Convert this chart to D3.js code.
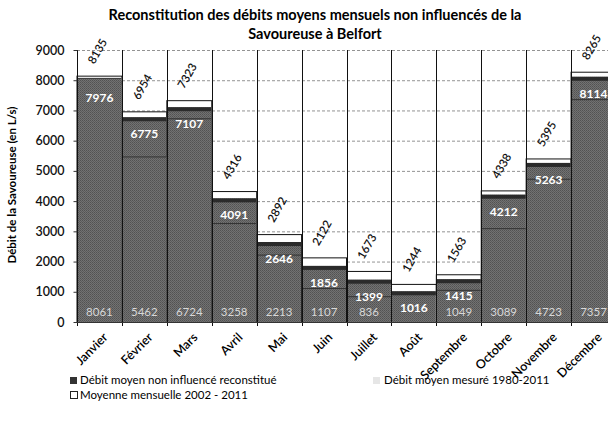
<!DOCTYPE html>
<html>
<head>
<meta charset="utf-8">
<script src="https://cdn.jsdelivr.net/npm/d3@7"></script>
<style>
  body { margin: 0; background: #fff; }
  svg { font-family: Lato, "Open Sans", sans-serif; }
</style>
</head>
<body>
<svg id="chart" width="608" height="423"></svg>
<script>
// Data
var months = ['Janvier', 'Février', 'Mars', 'Avril', 'Mai', 'Juin', 'Juillet', 'Août',
              'Septembre', 'Octobre', 'Novembre', 'Décembre'];
var moyenne2002 = [8135, 6954, 7323, 4316, 2892, 2122, 1673, 1244, 1563, 4338, 5395, 8265];
var reconstitue = [7976, 6775, 7107, 4091, 2646, 1856, 1399, 1016, 1415, 4212, 5263, 8114];
var mesure = [8061, 5462, 6724, 3258, 2213, 1107, 836, null, 1049, 3089, 4723, 7357];
var yTicks = [0, 1000, 2000, 3000, 4000, 5000, 6000, 7000, 8000, 9000];

var svg = d3.select('#chart');

// halftone-like texture of the scan
var defs = svg.append('defs');
var pat = defs.append('pattern').attr('id', 'grain')
    .attr('width', 2).attr('height', 2).attr('patternUnits', 'userSpaceOnUse');
pat.append('rect').attr('width', 2).attr('height', 2).attr('fill', '#727272');
pat.append('rect').attr('width', 1).attr('height', 1).attr('fill', '#525252');
pat.append('rect').attr('x', 1).attr('y', 1).attr('width', 1).attr('height', 1).attr('fill', '#5c5c5c');

var x = d3.scaleBand().domain(months).range([77, 616]).padding(0);
var y = d3.scaleLinear().domain([0, 9000]).range([322, 50]);
var bw = x.bandwidth();

// Title
svg.append('text').attr('x', 315).attr('y', 20).attr('text-anchor', 'middle')
    .style('font-size', '14.5px').style('font-weight', 'bold')
    .text('Reconstitution des débits moyens mensuels non influencés de la');
svg.append('text').attr('x', 315).attr('y', 39).attr('text-anchor', 'middle')
    .style('font-size', '14.5px').style('font-weight', 'bold')
    .text('Savoureuse à Belfort');

// gridlines
svg.append('g').selectAll('line').data(yTicks.slice(1)).join('line')
    .attr('x1', 77).attr('x2', 616)
    .attr('y1', function(d){ return y(d) + 0.5; }).attr('y2', function(d){ return y(d) + 0.5; })
    .attr('stroke', '#777').attr('stroke-dasharray', '3,2').attr('stroke-width', 0.8);

// white bars (moyenne 2002 - 2011)
svg.append('g').selectAll('rect').data(moyenne2002).join('rect')
    .attr('x', function(d, i){ return x(months[i]); })
    .attr('y', function(d){ return y(d); })
    .attr('width', bw).attr('height', function(d){ return y(0) - y(d); })
    .attr('fill', '#fff').attr('stroke', '#111').attr('stroke-width', 1);

// reconstitue bars
var gR = svg.append('g');
gR.selectAll('rect.bar').data(reconstitue).join('rect').attr('class', 'bar')
    .attr('x', function(d, i){ return x(months[i]) + 0.5; })
    .attr('y', function(d){ return y(d); })
    .attr('width', bw - 1).attr('height', function(d){ return y(0) - y(d); })
    .attr('fill', 'url(#grain)');
gR.selectAll('rect.top').data(reconstitue).join('rect').attr('class', 'top')
    .attr('x', function(d, i){ return x(months[i]) + 0.5; })
    .attr('y', function(d){ return y(d); })
    .attr('width', bw - 1).attr('height', 4)
    .attr('fill', '#2b2b2b');

// mesure bars
var mData = mesure.map(function(v, i){ return {m: months[i], v: v}; })
    .filter(function(d){ return d.v != null; });
var gM = svg.append('g');
gM.selectAll('rect').data(mData).join('rect')
    .attr('x', function(d){ return x(d.m) + 0.5; })
    .attr('y', function(d){ return y(d.v); })
    .attr('width', bw - 1).attr('height', function(d){ return y(0) - y(d.v); })
    .attr('fill', 'url(#grain)');
gM.selectAll('line').data(mData).join('line')
    .attr('x1', function(d){ return x(d.m) + 0.5; })
    .attr('x2', function(d){ return x(d.m) + bw - 0.5; })
    .attr('y1', function(d){ return y(d.v); }).attr('y2', function(d){ return y(d.v); })
    .attr('stroke', '#333').attr('stroke-width', 1);

// vertical separators
var bounds = months.map(function(m){ return x(m); });
svg.append('g').selectAll('line').data(bounds).join('line')
    .attr('x1', function(d){ return Math.round(d) + 0.5; })
    .attr('x2', function(d){ return Math.round(d) + 0.5; })
    .attr('y1', y(9000)).attr('y2', y(0) + 4)
    .attr('stroke', '#111').attr('stroke-width', 1);

// x axis
svg.append('line').attr('x1', 77).attr('x2', 616)
    .attr('y1', y(0) + 0.5).attr('y2', y(0) + 0.5).attr('stroke', '#333');

// y axis
var yAxis = d3.axisLeft(y).tickValues(yTicks).tickFormat(d3.format('d')).tickSize(4).tickPadding(9);
var gy = svg.append('g').attr('transform', 'translate(77.5,0)').call(yAxis);
gy.select('.domain').remove();
gy.selectAll('line').attr('stroke', '#333');
gy.selectAll('text').style('font-size', '12.5px').style('font-weight', '600')
    .style('font-family', 'Lato, sans-serif').attr('fill', '#111');

svg.append('text')
    .attr('transform', 'translate(16,185) rotate(-90)')
    .attr('text-anchor', 'middle')
    .style('font-size', '11.5px').style('font-weight', 'bold')
    .text('Débit de la Savoureuse (en L/s)');

// month labels
svg.append('g').selectAll('text').data(months).join('text')
    .attr('transform', function(d){ return 'translate(' + (x(d) + bw / 2 + 6) + ',335) rotate(-45)'; })
    .attr('text-anchor', 'end')
    .attr('dy', '0.35em')
    .style('font-size', '12.5px').style('font-weight', '600')
    .text(function(d){ return d; });

// value labels : moyenne 2002-2011 (rotated)
svg.append('g').selectAll('text').data(moyenne2002).join('text')
    .attr('transform', function(d, i){
        return 'translate(' + (x(months[i]) + bw / 2 - 2) + ',' + (y(d) - 25) + ') rotate(-60)';
    })
    .attr('text-anchor', 'middle').attr('dy', '0.35em')
    .style('font-size', '11.5px').style('font-weight', '600').attr('fill', '#111')
    .text(function(d){ return d; });

// value labels : reconstitue
svg.append('g').selectAll('text').data(reconstitue).join('text')
    .attr('x', function(d, i){ return x(months[i]) + bw / 2; })
    .attr('y', function(d){ return y(d) + 21; })
    .attr('text-anchor', 'middle')
    .style('font-size', '12px').style('font-weight', 'bold').attr('fill', '#fff')
    .text(function(d){ return d; });

// value labels : mesure
svg.append('g').selectAll('text').data(mData).join('text')
    .attr('x', function(d){ return x(d.m) + bw / 2; })
    .attr('y', 316)
    .attr('text-anchor', 'middle')
    .style('font-size', '11.5px').attr('fill', '#d8d8d8')
    .text(function(d){ return d.v; });

// legend
var leg = svg.append('g').style('font-size', '11.5px');
leg.append('rect').attr('x', 70).attr('y', 377).attr('width', 7).attr('height', 7)
    .attr('fill', '#333');
leg.append('text').attr('x', 80).attr('y', 384).text('Débit moyen non influencé reconstitué');
leg.append('rect').attr('x', 373).attr('y', 377).attr('width', 7).attr('height', 7)
    .attr('fill', '#e6e6e6');
leg.append('text').attr('x', 384).attr('y', 384).text('Débit moyen mesuré 1980-2011');
leg.append('rect').attr('x', 70.5).attr('y', 391.5).attr('width', 7).attr('height', 7)
    .attr('fill', '#fff').attr('stroke', '#222');
leg.append('text').attr('x', 80).attr('y', 399).text('Moyenne mensuelle 2002 - 2011');
</script>
</body>
</html>
